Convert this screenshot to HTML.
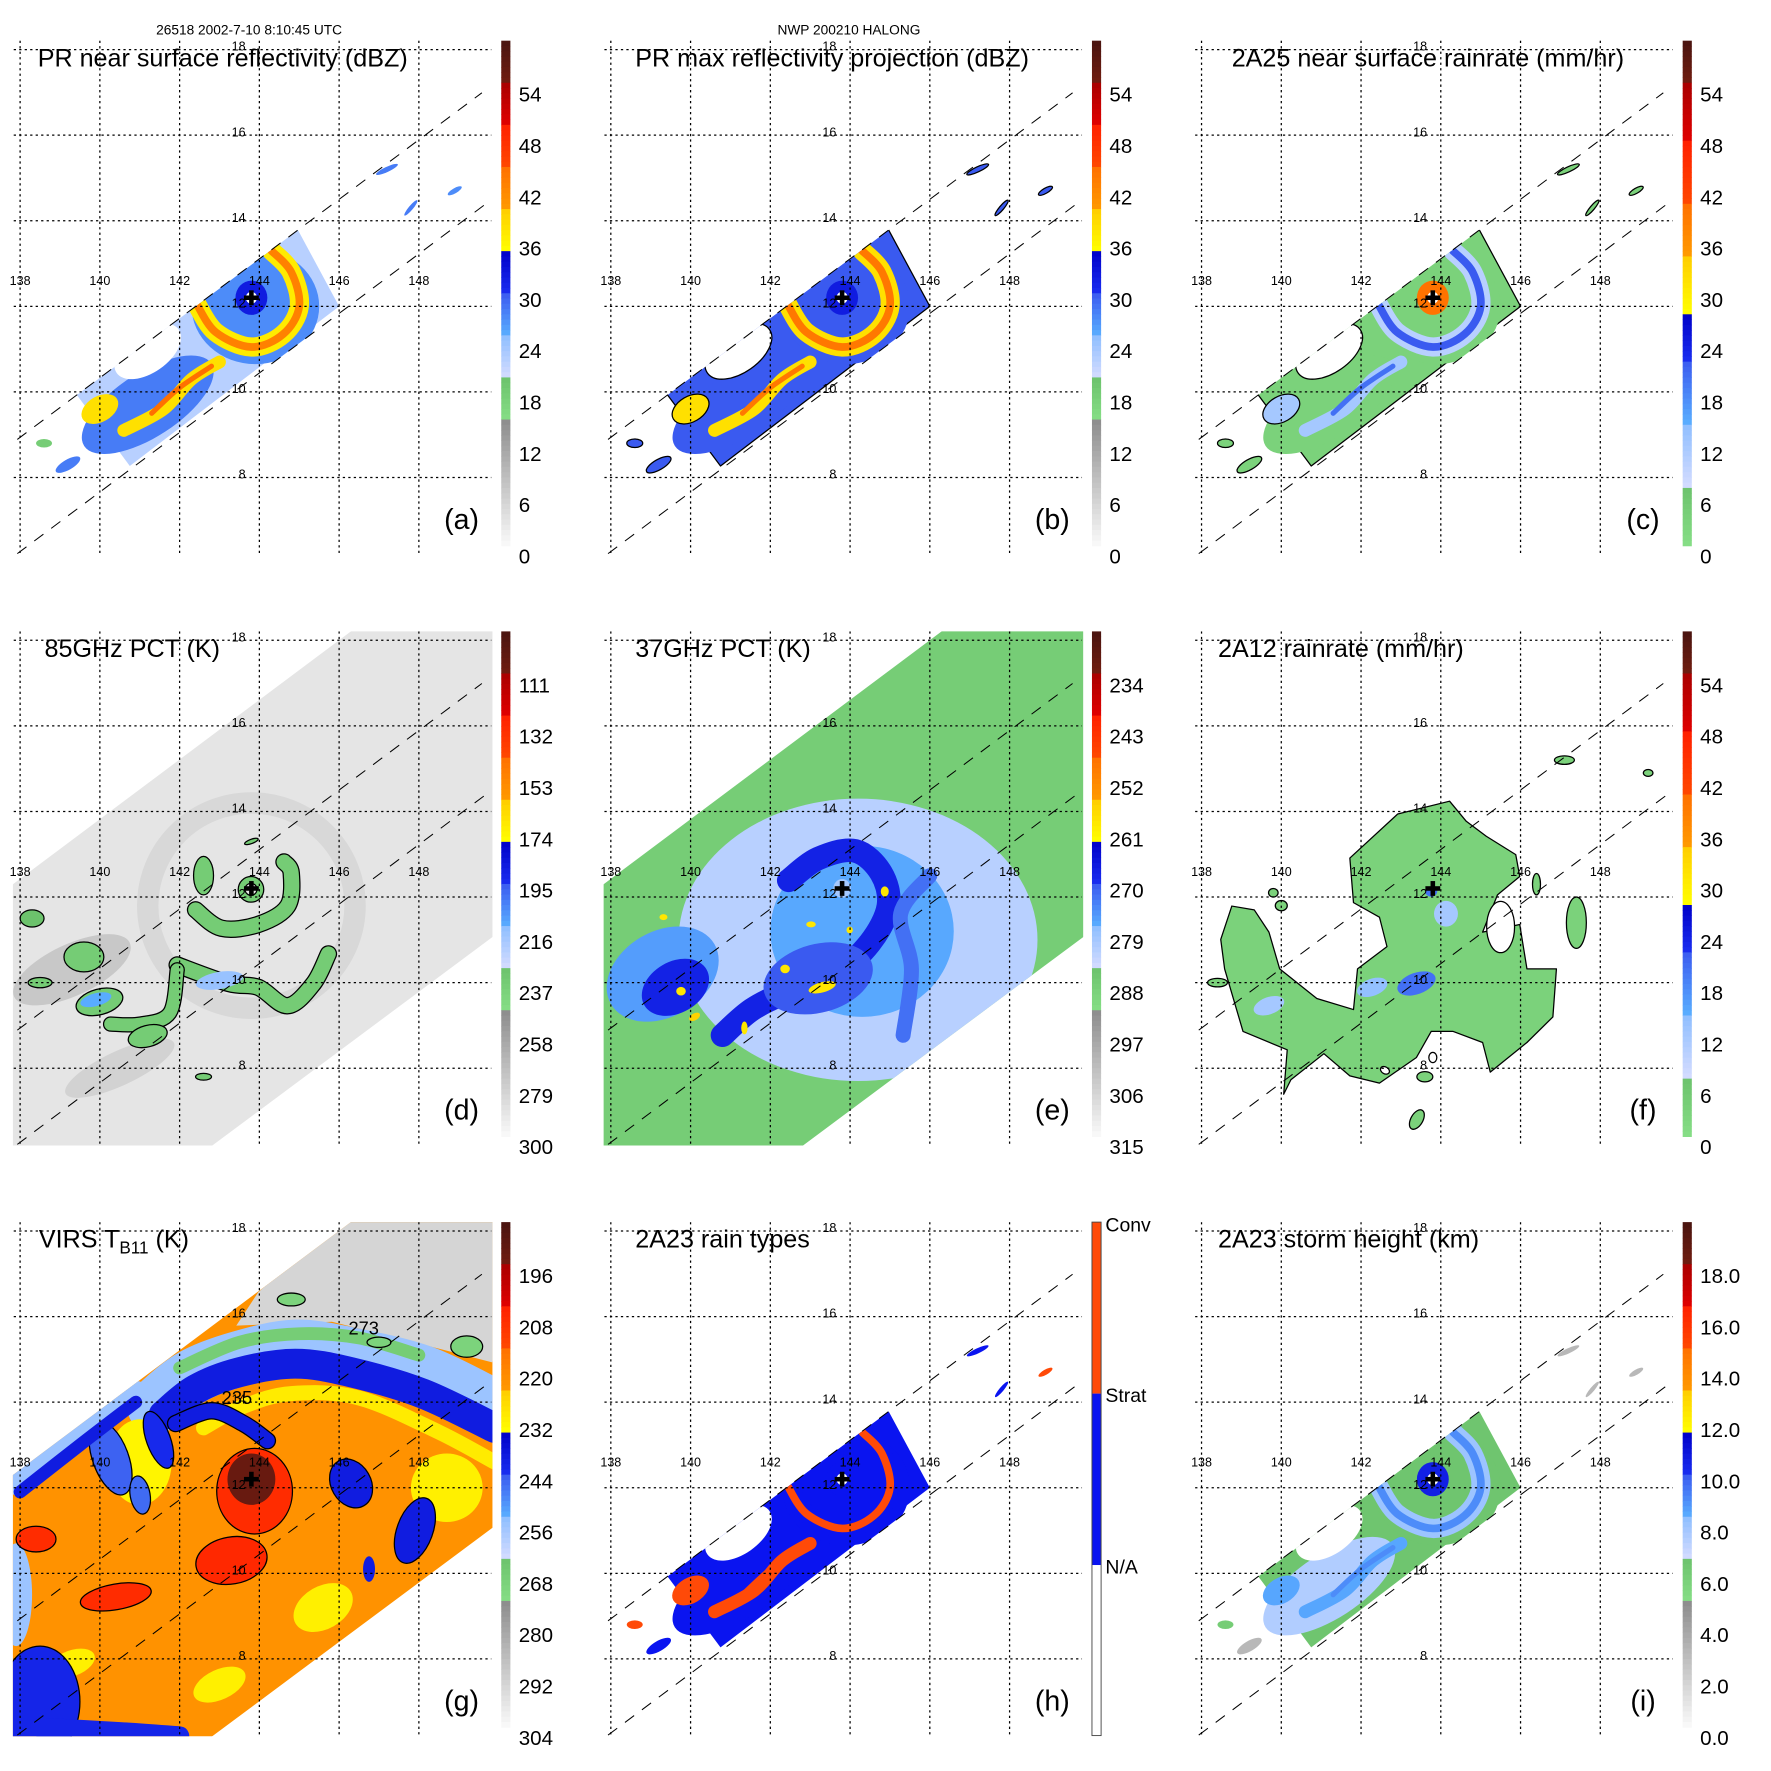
<!DOCTYPE html>
<html><head><meta charset="utf-8"><style>
html,body{margin:0;padding:0;background:#fff;}
svg{display:block;font-family:"Liberation Sans",Arial,sans-serif;}
.title{font-size:22px;fill:#000;}
.letter{font-size:25px;fill:#000;}
.hdr{font-size:12px;fill:#000;}
</style></head><body>
<svg id="fig" xmlns="http://www.w3.org/2000/svg" width="1771" height="1771" viewBox="0 0 1550 1550">
<rect x="0" y="0" width="1550" height="1550" fill="#fff"/>
<g id="pa" transform="translate(0,0)">
 <g id="pa-map"></g>
 <text class="hdr" x="218" y="30" text-anchor="middle">26518 2002-7-10 8:10:45 UTC</text>
 <text class="title" x="33" y="58">PR near surface reflectivity (dBZ)</text>
 <text class="letter" x="404" y="463" text-anchor="middle">(a)</text>
</g>
<g id="pb" transform="translate(517,0)">
 <g id="pb-map"></g>
 <text class="hdr" x="226" y="30" text-anchor="middle">NWP 200210 HALONG</text>
 <text class="title" x="39" y="58">PR max reflectivity projection (dBZ)</text>
 <text class="letter" x="404" y="463" text-anchor="middle">(b)</text>
</g>
<g id="pc" transform="translate(1034,0)">
 <g id="pc-map"></g>
 <text class="title" x="44" y="58">2A25 near surface rainrate (mm/hr)</text>
 <text class="letter" x="404" y="463" text-anchor="middle">(c)</text>
</g>
<g id="pd" transform="translate(0,517)">
 <g id="pd-map"></g>
 <text class="title" x="39" y="58">85GHz PCT (K)</text>
 <text class="letter" x="404" y="463" text-anchor="middle">(d)</text>
</g>
<g id="pe" transform="translate(517,517)">
 <g id="pe-map"></g>
 <text class="title" x="39" y="58">37GHz PCT (K)</text>
 <text class="letter" x="404" y="463" text-anchor="middle">(e)</text>
</g>
<g id="pf" transform="translate(1034,517)">
 <g id="pf-map"></g>
 <text class="title" x="32" y="58">2A12 rainrate (mm/hr)</text>
 <text class="letter" x="404" y="463" text-anchor="middle">(f)</text>
</g>
<g id="pg" transform="translate(0,1034)">
 <g id="pg-map"></g>
 <text class="title" x="34" y="58">VIRS T<tspan font-size="15" dy="5">B11</tspan><tspan dy="-5"> (K)</tspan></text>
 <text x="305" y="134" font-size="16">273</text>
 <text x="194" y="195" font-size="16">235</text>
 <text class="letter" x="404" y="463" text-anchor="middle">(g)</text>
</g>
<g id="ph" transform="translate(517,1034)">
 <g id="ph-map"></g>
 <text class="title" x="39" y="58">2A23 rain types</text>
 <text class="letter" x="404" y="463" text-anchor="middle">(h)</text>
</g>
<g id="pi" transform="translate(1034,1034)">
 <g id="pi-map"></g>
 <text class="title" x="32" y="58">2A23 storm height (km)</text>
 <text class="letter" x="404" y="463" text-anchor="middle">(i)</text>
</g>
</svg>
<script>
// ---------- data arrays ----------
const panelIds = ['a','b','c','d','e','f','g','h','i'];
const scaleBottom = [0,0,0,300,315,0,304,0,0];
const scaleTop = [60,60,60,90,225,60,184,3,20];
const lonTicks = [138,140,142,144,146,148];
const latTicks = [8,10,12,14,16,18];
const ticksA = ['54','48','42','36','30','24','18','12','6','0'];
const ticksD = ['111','132','153','174','195','216','237','258','279','300'];
const ticksE = ['234','243','252','261','270','279','288','297','306','315'];
const ticksG = ['196','208','220','232','244','256','268','280','292','304'];
const ticksI = ['18.0','16.0','14.0','12.0','10.0','8.0','6.0','4.0','2.0','0.0'];
const ticksH = ['Conv','Strat','N/A'];
const stormCenter = [143.8,12.2];
const narrowSwath = [[137.93,8.89],[149.58,16.99],[149.63,14.36],[137.93,6.22]];
const wideSwath = [[137.82,12.3],[147.0,18.7],[150.5,18.7],[150.5,11.52],[142.5,5.97],[137.5,5.97],[137.5,12.08]];

// PR swath storm geometry (lon, lat, radii in degrees)
const prShapes = [
 ['p',[139.34,10.03,144.9,13.9,146.0,12.0,140.75,8.27]],
 ['e',143.9,12.0,1.6,1.35,0],
 ['e',141.2,9.7,1.9,0.75,-33],
 ['e',141.2,10.95,0.95,0.5,-35],
 ['s',0.45,[142.4,12.1,142.9,11.4,143.8,11.05,144.6,11.35,145.0,12.0,144.8,12.8,144.3,13.3]],
 ['s',0.18,[142.4,12.1,142.9,11.4,143.8,11.05,144.6,11.35,145.0,12.0,144.8,12.8,144.3,13.3]],
 ['e',143.8,12.2,0.4,0.4,0],
 ['e',143.8,12.2,0.14,0.14,0],
 ['s',0.3,[143.0,10.7,142.3,10.3,141.6,9.6,140.6,9.1]],
 ['s',0.12,[142.8,10.6,142.0,10.1,141.3,9.5]],
 ['e',140.0,9.6,0.5,0.3,-30],
 ['e',147.2,15.2,0.3,0.06,-25],
 ['e',147.8,14.3,0.25,0.05,-50],
 ['e',148.9,14.7,0.2,0.06,-30],
 ['e',139.2,8.3,0.35,0.12,-30],
 ['e',138.6,8.8,0.2,0.1,0]
];
const aVals = [22,27,28,null,37,43,32,null,38,45,38,28,28,27,28,18];
const bVals = [30,30,30,null,38,44,32,null,38,44,38,30,30,30,30,30];
const cVals = [3,3,3,null,10,22,40,null,12,20,12,3,3,3,3,3];
const hVals = ['S','S','S','W','S','C','S','W','C','C','C','S','S','C','S','C'];
const iVals = [6.5,6.5,7.5,null,8,9,10.5,null,8.5,9,8.5,3,3,3,3,6];
const bOut = [1,0,0,1,0,0,0,0,0,0,1,1,1,1,1,1];
const cOut = [1,0,0,1,0,0,0,0,0,0,1,1,1,1,1,1];

// 85 GHz PCT features
const dBase = 290;
const dShapes = [
 ['r',143.8,11.8,2.6,2.4,0.5],
 ['e',139.3,10.3,1.6,0.6,-25],
 ['e',140.5,8.0,1.5,0.4,-25],
 ['eo',143.79,12.18,0.32,0.3,0],
 ['eo',143.79,12.18,0.15,0.14,0],
 ['eo',142.6,12.5,0.25,0.45,0],
 ['so',0.35,[142.4,11.7,143.05,11.27,143.97,11.36,144.71,11.79,144.8,12.56,144.62,12.82]],
 ['so',0.35,[141.94,10.41,143.23,9.98,143.97,9.89,144.71,9.46,145.36,9.98,145.73,10.67]],
 ['so',0.3,[141.94,10.3,141.75,9.29,141.01,9.03,140.27,9.03]],
 ['e',143.0,10.05,0.6,0.2,-10],
 ['eo',139.99,9.55,0.6,0.3,-15],
 ['e',139.9,9.6,0.4,0.15,-15],
 ['eo',139.6,10.6,0.5,0.35,0],
 ['eo',138.5,10.0,0.3,0.12,0],
 ['eo',138.3,11.5,0.3,0.2,0],
 ['eo',141.2,8.75,0.5,0.25,-15],
 ['eo',142.6,7.8,0.2,0.08,0],
 ['eo',143.8,13.3,0.18,0.05,-20]
];
const dVals = [284,276,281,236,290,236,236,236,236,215,236,212,236,236,230,236,236,236];

// 37 GHz PCT features
const eBase = 288;
const eShapes = [
 ['e',144.2,11.0,4.5,3.3,0],
 ['e',144.3,11.2,2.3,2.0,0],
 ['s',0.55,[142.46,12.39,143.2,12.9,144.13,13.08,144.78,12.56,144.96,11.79,144.5,10.93,143.67,10.24,142.46,9.8,141.54,9.37,140.8,8.77]],
 ['e',143.2,10.1,1.4,0.8,-15],
 ['e',139.3,10.2,1.5,1.0,-30],
 ['e',139.62,9.89,0.9,0.6,-30],
 ['s',0.35,[146.0,12.5,145.27,11.61,145.54,10.32,145.33,8.77]],
 ['e',143.8,12.2,0.22,0.22,0],
 ['e',143.02,11.36,0.12,0.07,0],
 ['e',144.87,12.13,0.1,0.12,0],
 ['e',143.99,11.23,0.08,0.08,0],
 ['e',143.3,9.89,0.35,0.12,-15],
 ['e',142.37,10.32,0.12,0.1,0],
 ['e',139.76,9.8,0.12,0.1,0],
 ['e',141.35,8.94,0.08,0.15,0],
 ['e',139.32,11.53,0.1,0.07,0],
 ['e',140.1,9.2,0.15,0.08,-30]
];
const eVals = [282,277,268,270,276,268,272,280,259,259,259,259,259,259,259,259,256];

// 2A12 rain rate features
const fShapes = [
 ['po',[141.72,12.91,142.92,13.94,144.22,14.24,144.64,13.77,145.14,13.42,145.88,12.99,145.98,12.48,145.42,12.05,145.05,11.18,145.98,11.36,146.16,10.32,146.9,10.32,146.81,9.2,146.16,8.6,145.24,7.91,145.05,8.6,144.31,8.86,143.76,8.86,143.39,8.25,142.46,7.65,141.72,7.82,141.07,8.34,140.24,7.73,140.06,7.39,140.15,8.43,139.04,8.86,138.58,10.32,138.48,11.01,138.76,11.79,139.32,11.7,139.69,11.18,139.96,10.32,140.89,9.63,141.81,9.37,141.91,10.32,142.65,10.84,142.46,11.53,141.81,11.87]],
 ['eo',145.5,11.3,0.35,0.6,0],
 ['eo',142.6,7.95,0.12,0.08,30],
 ['eo',143.8,8.25,0.1,0.12,0],
 ['e',143.39,9.98,0.5,0.25,-20],
 ['e',144.13,11.61,0.3,0.3,0],
 ['e',142.28,9.89,0.4,0.2,-20],
 ['e',139.69,9.46,0.4,0.2,-20],
 ['e',143.76,12.13,0.15,0.12,0],
 ['eo',147.4,11.4,0.25,0.6,0],
 ['eo',146.4,12.3,0.1,0.25,0],
 ['eo',147.1,15.2,0.25,0.1,0],
 ['eo',149.2,14.9,0.12,0.08,0],
 ['eo',139.8,12.1,0.12,0.1,0],
 ['eo',140.0,11.8,0.15,0.12,0],
 ['eo',138.4,10.0,0.25,0.1,0],
 ['eo',143.4,6.8,0.15,0.25,30],
 ['eo',143.6,7.8,0.2,0.12,0]
];
const fVals = [3,null,null,null,20,12,14,12,20,3,3,3,3,3,3,3,3,3];

// VIRS TB11 features
const gBase = 222;
const gShapes = [
 ['p',[143.42,15.79,145.82,15.88,147.67,15.45,149.84,14.93,150.5,18.7,146.51,18.7,143.97,16.57]],
 ['s',1.3,[141.38,13.9,142.31,14.59,143.51,15.02,144.9,15.28,146.28,15.1,148.13,14.67,149.84,13.9]],
 ['s',0.7,[141.6,13.7,142.4,14.3,143.5,14.7,144.9,14.9,146.3,14.7,148.1,14.2,149.9,13.4]],
 ['s',0.3,[142.0,14.8,143.5,15.4,145.0,15.6,146.5,15.5,148.0,15.1]],
 ['s',0.35,[142.6,13.4,143.6,13.9,144.8,14.2,146.5,14.1,148.5,13.3,149.9,12.6]],
 ['e',148.7,12.0,0.9,0.8,0],
 ['e',141.0,12.6,0.8,1.0,0],
 ['eo',140.27,12.69,0.45,0.9,-20],
 ['eo',141.47,13.12,0.3,0.7,-20],
 ['eo',141.01,11.83,0.25,0.45,-10],
 ['s',0.6,[138.0,12.1,139.5,13.2,140.9,14.2]],
 ['s',0.3,[138.0,11.9,139.5,13.0,140.9,14.0]],
 ['so',0.35,[141.9,13.5,142.8,13.8,143.6,13.5,144.2,13.1]],
 ['eo',146.3,12.1,0.5,0.6,-30],
 ['eo',147.9,11.0,0.45,0.8,20],
 ['e',146.75,10.1,0.15,0.3,0],
 ['e',145.6,9.2,0.8,0.5,-30],
 ['e',143.0,7.4,0.7,0.35,-25],
 ['e',139.3,7.9,0.6,0.3,-20],
 ['eo',138.5,7.0,1.0,1.3,0],
 ['s',0.45,[138.5,6.4,140.5,6.3,142.0,6.2]],
 ['e',137.9,9.5,0.4,1.2,0],
 ['eo',143.88,11.92,0.95,1.0,0],
 ['e',143.8,12.2,0.6,0.6,0],
 ['eo',143.3,10.3,0.9,0.55,-10],
 ['eo',140.4,9.45,0.9,0.3,-10],
 ['eo',138.4,10.8,0.5,0.3,0],
 ['eo',149.2,15.3,0.4,0.25,0],
 ['eo',147.0,15.4,0.3,0.12,0],
 ['eo',144.8,16.4,0.35,0.15,0]
];
const gVals = [294,256,240,268,230,231,232,245,243,246,256,240,240,240,240,240,231,231,231,242,242,256,207,192,206,207,207,270,270,270];

// colour stops (position 0..12 along the colour bar)
const stopsA = [[0,'#fafafa'],[3,'#8c8c8c'],[3,'#86de86'],[4,'#6cc26c'],[4,'#d4dcff'],[5,'#8ebeff'],[5,'#5aaeff'],[6,'#3a5af0'],[6,'#1a2ef0'],[7,'#0000c8'],[7,'#ffff00'],[8,'#ffcc00'],[8,'#ff9a00'],[9,'#ff7000'],[9,'#ff4800'],[10,'#ff2000'],[10,'#e00000'],[11,'#a80000'],[11,'#701c10'],[12,'#4a1410']];
const stopsC = [[0,'#86de86'],[1.4,'#6cc26c'],[1.4,'#d4dcff'],[2.9,'#8ebeff'],[2.9,'#5aaeff'],[4.4,'#3a5af0'],[4.4,'#1a2ef0'],[5.5,'#0000c8'],[5.5,'#ffff00'],[6.9,'#ffcc00'],[6.9,'#ff9a00'],[8.1,'#ff7000'],[8.1,'#ff4800'],[9.6,'#ff2000'],[9.6,'#e00000'],[11,'#a80000'],[11,'#701c10'],[12,'#4a1410']];
const hColors = {S:'#0a14f0', C:'#ff4a08', W:'#ffffff'};

// ---------- helpers ----------
const NS = 'http://www.w3.org/2000/svg';
const DX = 34.9, DY = 37.45;
function X(lon){ return 17.6 + (lon - 138) * DX; }
function Y(lat){ return 43.4 + (18 - lat) * DY; }
function mk(tag, parent){ const e = document.createElementNS(NS, tag); parent.appendChild(e); return e; }
function hex(c){ return [parseInt(c.slice(1,3),16),parseInt(c.slice(3,5),16),parseInt(c.slice(5,7),16)]; }
function cmap(stops, pos){
  pos = Math.max(0, Math.min(11.999, pos));
  for (let k = 0; k < stops.length - 1; k++){
    const p0 = stops[k][0], p1 = stops[k+1][0];
    if (p1 > p0 && pos >= p0 && pos <= p1){
      const t = (pos - p0) / (p1 - p0), a = hex(stops[k][1]), b = hex(stops[k+1][1]);
      return 'rgb(' + a.map((v,j)=>Math.round(v + (b[j]-v)*t)).join(',') + ')';
    }
  }
  return stops[stops.length-1][1];
}
function smoothPath(flat){
  const p = [];
  for (let k = 0; k < flat.length; k += 2) p.push([X(flat[k]), Y(flat[k+1])]);
  let d = 'M' + p[0][0].toFixed(1) + ',' + p[0][1].toFixed(1);
  for (let k = 0; k < p.length - 1; k++){
    const p0 = p[k-1] || p[k], p1 = p[k], p2 = p[k+1], p3 = p[k+2] || p2;
    const c1 = [p1[0] + (p2[0]-p0[0])/6, p1[1] + (p2[1]-p0[1])/6];
    const c2 = [p2[0] - (p3[0]-p1[0])/6, p2[1] - (p3[1]-p1[1])/6];
    d += 'C' + c1.map(v=>v.toFixed(1)).join(',') + ' ' + c2.map(v=>v.toFixed(1)).join(',') + ' ' + p2[0].toFixed(1) + ',' + p2[1].toFixed(1);
  }
  return d;
}
function polyPath(flat){
  let d = '';
  for (let k = 0; k < flat.length; k += 2) d += (k ? 'L' : 'M') + X(flat[k]).toFixed(1) + ',' + Y(flat[k+1]).toFixed(1);
  return d + 'Z';
}
function drawShape(g, s, color, outline){
  const t = s[0][0];
  const out = outline || s[0].length > 1;
  if (t === 'e'){
    const e = mk('ellipse', g);
    
    
    const cx = X(s[1]), cy = Y(s[2]);
    e.setAttribute('cx', cx); e.setAttribute('cy', cy);
    e.setAttribute('rx', s[3]*DX); e.setAttribute('ry', s[4]*DY);
    e.setAttribute('transform', 'rotate(' + s[5] + ' ' + cx + ' ' + cy + ')');
    e.setAttribute('fill', color);
    if (out){ e.setAttribute('stroke', '#000'); e.setAttribute('stroke-width', '1.1'); }
  } else if (t === 'r'){
    const e = mk('ellipse', g);
    
    
    e.setAttribute('cx', X(s[1])); e.setAttribute('cy', Y(s[2]));
    e.setAttribute('rx', s[3]*DX); e.setAttribute('ry', s[4]*DY);
    e.setAttribute('fill', 'none'); e.setAttribute('stroke', color);
    e.setAttribute('stroke-width', s[5]*DY);
  } else if (t === 's'){
    const d = smoothPath(s[2]);
    if (out){
      const o = mk('path', g);
      
      
      o.setAttribute('d', d); o.setAttribute('fill', 'none'); o.setAttribute('stroke', '#000');
      o.setAttribute('stroke-width', s[1]*DY + 2.2); o.setAttribute('stroke-linecap', 'round'); o.setAttribute('stroke-linejoin', 'round');
    }
    const e = mk('path', g);
    
    
    e.setAttribute('d', d); e.setAttribute('fill', 'none'); e.setAttribute('stroke', color);
    e.setAttribute('stroke-width', s[1]*DY); e.setAttribute('stroke-linecap', 'round'); e.setAttribute('stroke-linejoin', 'round');
  } else if (t === 'p'){
    const e = mk('path', g);
    
    
    e.setAttribute('d', polyPath(s[1])); e.setAttribute('fill', color);
    if (out){ e.setAttribute('stroke', '#000'); e.setAttribute('stroke-width', '1.1'); e.setAttribute('stroke-linejoin', 'round'); }
  }
}
function clipDef(id, builder){
  let defs = document.getElementById('defs');
  if (!defs){ defs = mk('defs', document.getElementById('fig')); defs.id = 'defs'; }
  const cp = mk('clipPath', defs); cp.id = id; builder(cp);
}

// ---------- panels ----------
const shapesFor = {a:prShapes,b:prShapes,c:prShapes,d:dShapes,e:eShapes,f:fShapes,g:gShapes,h:prShapes,i:prShapes};
const valsFor = {a:aVals,b:bVals,c:cVals,d:dVals,e:eVals,f:fVals,g:gVals,h:hVals,i:iVals};
const outFor = {b:bOut,c:cOut};
const baseFor = {d:dBase,e:eBase,g:gBase};
const ticksFor = {a:ticksA,b:ticksA,c:ticksA,d:ticksD,e:ticksE,f:ticksA,g:ticksG,i:ticksI};

panelIds.forEach((pid, idx) => {
  const root = document.getElementById('p' + pid + '-map');
  const stops = (pid === 'c' || pid === 'f') ? stopsC : stopsA;
  const colorOf = v => {
    if (v === null) return '#ffffff';
    if (pid === 'h') return hColors[v];
    return cmap(stops, (v - scaleBottom[idx]) / (scaleTop[idx] - scaleBottom[idx]) * 12);
  };
  clipDef('frame-' + pid, cp => {
    const r = mk('rect', cp);
    r.setAttribute('x', 11.3); r.setAttribute('y', 35.6); r.setAttribute('width', 419.7); r.setAttribute('height', 450);
  });
  const wide = (pid === 'd' || pid === 'e' || pid === 'g');
  const swathPts = wide ? wideSwath : narrowSwath;
  if (pid !== 'f'){
    clipDef('swath-' + pid, cp => {
      const p = mk('polygon', cp);
      p.setAttribute('points', swathPts.map(q => X(q[0]).toFixed(1) + ',' + Y(q[1]).toFixed(1)).join(' '));
    });
  }
  const frame = mk('g', root);
  
  
  frame.setAttribute('clip-path', 'url(#frame-' + pid + ')');
  const data = mk('g', frame);
  
  
  if (pid !== 'f') data.setAttribute('clip-path', 'url(#swath-' + pid + ')');
  if (wide){
    const bg = mk('rect', data);
    
    
    bg.setAttribute('x', 0); bg.setAttribute('y', 0); bg.setAttribute('width', 440); bg.setAttribute('height', 490);
    bg.setAttribute('fill', colorOf(baseFor[pid]));
  }
  const shapes = shapesFor[pid], vals = valsFor[pid], outs = outFor[pid];
  shapes.forEach((s, k) => drawShape(data, s, colorOf(vals[k]), outs ? !!outs[k] : false));

  // grid
  const grid = mk('g', frame);
  
  
  lonTicks.forEach(lon => {
    const l = mk('line', grid);
    
    
    l.setAttribute('x1', X(lon)); l.setAttribute('x2', X(lon)); l.setAttribute('y1', 35.6); l.setAttribute('y2', 486);
    l.setAttribute('stroke', '#000'); l.setAttribute('stroke-width', '1.1'); l.setAttribute('stroke-dasharray', '2 2.8');
  });
  latTicks.forEach(lat => {
    const l = mk('line', grid);
    
    
    l.setAttribute('x1', 12); l.setAttribute('x2', 430); l.setAttribute('y1', Y(lat)); l.setAttribute('y2', Y(lat));
    l.setAttribute('stroke', '#000'); l.setAttribute('stroke-width', '1.1'); l.setAttribute('stroke-dasharray', '2 2.8');
  });
  // swath edges
  [[narrowSwath[0], narrowSwath[1]], [narrowSwath[3], narrowSwath[2]]].forEach(pair => {
    const l = mk('line', grid);
    
    
    l.setAttribute('x1', X(pair[0][0])); l.setAttribute('y1', Y(pair[0][1]));
    l.setAttribute('x2', X(pair[1][0])); l.setAttribute('y2', Y(pair[1][1]));
    l.setAttribute('stroke', '#000'); l.setAttribute('stroke-width', '0.9'); l.setAttribute('stroke-dasharray', '10 8.5');
  });
  // storm centre marker
  const cx = X(stormCenter[0]), cy = Y(stormCenter[1]);
  const c1 = mk('rect', frame);
  
  
  c1.setAttribute('x', cx - 6.5); c1.setAttribute('y', cy - 2); c1.setAttribute('width', 13); c1.setAttribute('height', 4);
  const c2 = mk('rect', frame);
  
  
  c2.setAttribute('x', cx - 2); c2.setAttribute('y', cy - 6.5); c2.setAttribute('width', 4); c2.setAttribute('height', 13);

  // tick labels
  lonTicks.forEach(lon => {
    const t = mk('text', root);
    
    
    t.setAttribute('x', X(lon)); t.setAttribute('y', 249.5); t.setAttribute('font-size', '11'); t.setAttribute('text-anchor', 'middle');
    t.textContent = String(lon);
  });
  latTicks.forEach(lat => {
    const t = mk('text', root);
    
    
    t.setAttribute('x', 215); t.setAttribute('y', Y(lat) + 1); t.setAttribute('font-size', '11'); t.setAttribute('text-anchor', 'end');
    t.textContent = String(lat);
  });

  // colour bar
  const cb = mk('g', root);
  
  
  if (pid === 'h'){
    const blocks = [['C',35.6,185.7],['S',185.7,335.8],['W',335.8,485]];
    blocks.forEach(b => {
      const r = mk('rect', cb);
      
      
      r.setAttribute('x', 438.7); r.setAttribute('y', b[1]); r.setAttribute('width', 8); r.setAttribute('height', b[2] - b[1]);
      r.setAttribute('fill', hColors[b[0]]);
    });
    const bd = mk('rect', cb);
    
    
    bd.setAttribute('x', 438.7); bd.setAttribute('y', 35.6); bd.setAttribute('width', 8); bd.setAttribute('height', 449.4);
    bd.setAttribute('fill', 'none'); bd.setAttribute('stroke', '#444'); bd.setAttribute('stroke-width', '0.8');
    const ly = [43.7, 193, 343];
    ticksH.forEach((lab, k) => {
      const t = mk('text', cb);
      
      
      t.setAttribute('x', 450.5); t.setAttribute('y', ly[k]); t.setAttribute('font-size', '17');
      t.textContent = lab;
    });
  } else {
    const N = 96, top = 35.6, h = 442.1;
    for (let k = 0; k < N; k++){
      const r = mk('rect', cb);
      
      
      r.setAttribute('x', 438.7); r.setAttribute('y', (top + k*h/N).toFixed(2)); r.setAttribute('width', 8); r.setAttribute('height', (h/N + 0.4).toFixed(2));
      r.setAttribute('fill', cmap(stops, 12 - (k + 0.5) * 12 / N));
    }
    ticksFor[pid].forEach((lab, k) => {
      const t = mk('text', cb);
      
      
      t.setAttribute('x', 454); t.setAttribute('y', 82.5 + k*44.9 + 6.5); t.setAttribute('font-size', '18');
      t.textContent = lab;
    });
  }
});
</script>
</body></html>
